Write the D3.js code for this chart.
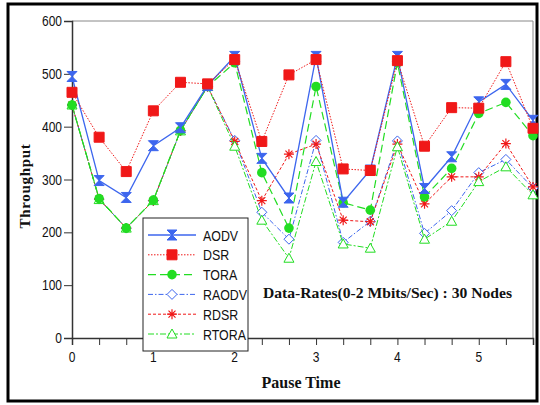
<!DOCTYPE html>
<html>
<head>
<meta charset="utf-8">
<script src="https://cdn.jsdelivr.net/npm/d3@7"></script>
<style>
  body { margin: 0; background: #fff; }
  svg text { fill: #111; }
  .narrow { font-family: "Liberation Sans", Arial, sans-serif; }
  .serif { font-family: "Liberation Serif", "DejaVu Serif", serif; font-weight: bold; }
</style>
</head>
<body>
<div id="chart"></div>
<script>
// pause time positions (three samples per unit)
const pauseTime = [0, 1/3, 2/3, 1, 4/3, 5/3, 2, 7/3, 8/3, 3, 10/3, 11/3, 4, 13/3, 14/3, 5, 16/3, 17/3];
const xTicks = [0, 1, 2, 3, 4, 5];
const yTicks = [0, 100, 200, 300, 400, 500, 600];

const aodv  = [495, 298, 266, 364, 398, 478, 533, 340, 265, 533, 257, 318, 533, 283, 343, 447, 480, 412];
const dsr   = [465, 380, 315, 430, 484, 481, 527, 372, 498, 527, 320, 317, 525, 363, 436, 435, 523, 397];
const tora  = [441, 264, 208, 261, 393, 476, 521, 313, 208, 476, 256, 242, 521, 267, 321, 425, 446, 383];
const raodv = [441, 263, 208, 260, 392, 476, 374, 238, 187, 374, 181, 221, 373, 198, 241, 313, 338, 284];
const rdsr  = [441, 263, 208, 260, 392, 476, 372, 260, 348, 367, 223, 220, 367, 254, 305, 305, 368, 286];
const rtora = [441, 262, 208, 260, 392, 476, 363, 223, 151, 334, 178, 170, 362, 187, 221, 296, 324, 271];

const blue = '#3d66ee';
const red = '#f01818';
const green = '#22dd22';

const series = [
  { name: 'AODV',  values: aodv,  color: blue,  dash: null,        marker: 'hourglass', fill: true,  width: 1.3 },
  { name: 'DSR',   values: dsr,   color: red,   dash: '1.5,1.5',   marker: 'square',    fill: true,  width: 1 },
  { name: 'TORA',  values: tora,  color: green, dash: '8,4',       marker: 'circle',    fill: true,  width: 1.2 },
  { name: 'RAODV', values: raodv, color: blue,  dash: '5,2,1.5,2', marker: 'diamond',   fill: false, width: 1 },
  { name: 'RDSR',  values: rdsr,  color: red,   dash: '3,2',       marker: 'star',      fill: false, width: 1 },
  { name: 'RTORA', values: rtora, color: green, dash: '6,2,2,2',   marker: 'triangle',  fill: false, width: 1 }
];

const w = 540;
const h = 405;
const plotLeft = 72, plotRight = 533, plotTop = 21, plotBottom = 338;

const svg = d3.select('#chart').append('svg').attr('width', w).attr('height', h);

// outer frame
svg.append('rect')
   .attr('x', 8).attr('y', 4).attr('width', 529).attr('height', 397)
   .attr('fill', 'none').attr('stroke', '#000').attr('stroke-width', 3);

const xScale = d3.scaleLinear().domain([0, 17/3]).range([plotLeft, plotRight]);
const yScale = d3.scaleLinear().domain([0, 600]).range([plotBottom, plotTop]);

// squeezed sans text, like the original's condensed labels
function narrowText(g, x, y, str, size, anchor) {
  return g.append('text')
    .attr('class', 'narrow')
    .attr('transform', 'translate(' + x + ',' + y + ') scale(0.8,1)')
    .attr('text-anchor', anchor || 'start')
    .style('font-size', size + 'px')
    .text(str);
}

// plot frame (top/right light)
svg.append('path')
   .attr('d', `M${plotLeft},${plotTop}H${plotRight}V${plotBottom}`)
   .attr('fill', 'none').attr('stroke', '#888').attr('stroke-width', 1);

const xAxis = svg.append('g')
   .attr('transform', 'translate(0,' + plotBottom + ')')
   .call(d3.axisBottom(xScale).tickValues(pauseTime).tickSize(7).tickFormat(d => ''));
xAxis.select('.domain').attr('stroke', '#333').attr('stroke-width', 1.5);
xAxis.selectAll('.tick line').attr('stroke', '#333');

const xLabels = svg.append('g');
xTicks.forEach(d => narrowText(xLabels, xScale(d), 362, d, 15, 'middle'));

const yAxis = svg.append('g')
   .attr('transform', 'translate(' + plotLeft + ',0)')
   .call(d3.axisLeft(yScale).tickValues(yTicks).tickSize(8).tickFormat(d => ''));
yAxis.select('.domain').attr('stroke', '#333').attr('stroke-width', 1.5);
yAxis.selectAll('.tick line').attr('stroke', '#333');

const yLabels = svg.append('g');
yTicks.forEach(d => narrowText(yLabels, 62, yScale(d) + 5, d, 15, 'end'));

// markers
function markerPath(type) {
  if (type === 'hourglass') return 'M-5,-5H5L0,0Z M-5,5H5L0,0Z';
  if (type === 'square') return 'M-5,-5H5V5H-5Z';
  if (type === 'diamond') return 'M0,-5L5,0L0,5L-5,0Z';
  if (type === 'triangle') return 'M0,-5L5,4H-5Z';
  if (type === 'star') return 'M0,-5V5M-5,0H5M-3.5,-3.5L3.5,3.5M-3.5,3.5L3.5,-3.5';
  return null;
}

function drawMarker(g, s, x, y) {
  if (s.marker === 'circle') {
    g.append('circle').attr('cx', x).attr('cy', y).attr('r', 4.8).attr('fill', s.color);
  } else {
    g.append('path')
     .attr('d', markerPath(s.marker))
     .attr('transform', 'translate(' + x + ',' + y + ')')
     .attr('fill', s.fill ? s.color : (s.marker === 'star' ? 'none' : '#fff'))
     .attr('stroke', s.color)
     .attr('stroke-width', s.marker === 'star' ? 1.2 : 1);
  }
}

const line = d3.line().x((d, i) => xScale(pauseTime[i])).y(d => yScale(d));

// draw R-series first so main series sit on top
const drawOrder = [3, 4, 5, 2, 0, 1];
drawOrder.forEach(k => {
  const s = series[k];
  const g = svg.append('g');
  g.append('path')
   .attr('d', line(s.values))
   .attr('fill', 'none')
   .attr('stroke', s.color)
   .attr('stroke-width', s.width)
   .attr('stroke-dasharray', s.dash);
  s.values.forEach((v, i) => drawMarker(g, s, xScale(pauseTime[i]), yScale(v)));
});

// annotation
svg.append('text')
   .attr('class', 'serif')
   .attr('x', 263).attr('y', 298)
   .attr('textLength', 249)
   .attr('lengthAdjust', 'spacingAndGlyphs')
   .style('font-size', '15px')
   .text('Data-Rates(0-2 Mbits/Sec) : 30 Nodes');

// axis titles
svg.append('text')
   .attr('class', 'serif')
   .attr('x', 301).attr('y', 388)
   .attr('text-anchor', 'middle')
   .style('font-size', '16px')
   .text('Pause Time');

svg.append('text')
   .attr('class', 'serif')
   .attr('transform', 'translate(30,186) rotate(-90)')
   .attr('text-anchor', 'middle')
   .style('font-size', '15px')
   .style('letter-spacing', '0.7px')
   .text('Throughput');

// legend
const legend = svg.append('g');
legend.append('rect')
   .attr('x', 143).attr('y', 218).attr('width', 105).attr('height', 133)
   .attr('fill', '#fff').attr('stroke', '#222').attr('stroke-width', 1);

series.forEach((s, i) => {
  const y = 235 + i * 19.8;
  legend.append('line')
     .attr('x1', 148).attr('x2', 196).attr('y1', y).attr('y2', y)
     .attr('stroke', s.color).attr('stroke-width', s.width)
     .attr('stroke-dasharray', s.dash);
  drawMarker(legend, s, 172, y);
  narrowText(legend, 203, y + 5.5, s.name, 15.5, 'start');
});
</script>
</body>
</html>
